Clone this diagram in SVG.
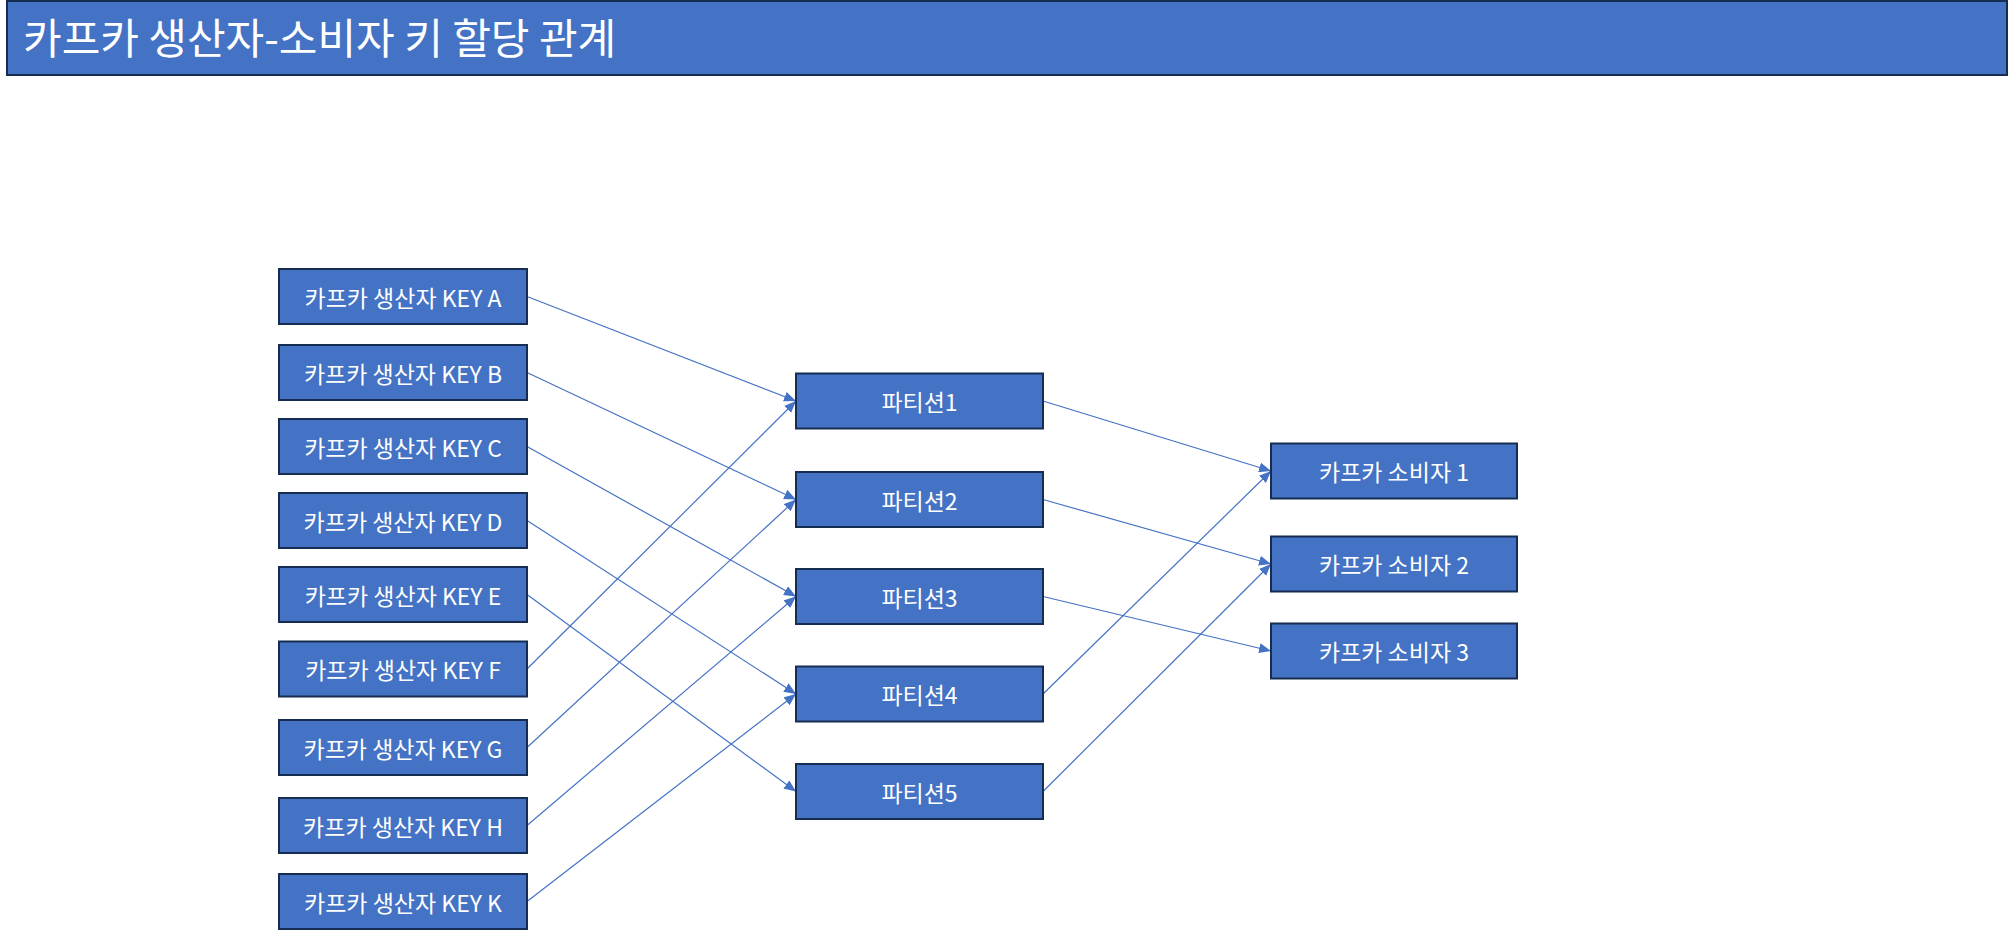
<svg xmlns="http://www.w3.org/2000/svg" width="2009" height="931" viewBox="0 0 2009 931">
<style>
.box{fill:#4472c4;stroke:#172c51;stroke-width:2}
.lbl{fill:#ffffff;font-family:"Noto Sans CJK KR","Noto Sans",sans-serif;font-size:23px;text-anchor:middle;dominant-baseline:central}
.title{fill:#ffffff;font-family:"Noto Sans CJK KR","Noto Sans",sans-serif;font-size:42px}
.edge{stroke:#4472c4;stroke-width:1.2;fill:none;marker-end:url(#arr)}
</style>
<defs>
<marker id="arr" markerUnits="userSpaceOnUse" markerWidth="12" markerHeight="10" refX="12" refY="5" orient="auto">
<path d="M0,0 L12,5 L0,10 z" fill="#4472c4"/>
</marker>
</defs>
<rect width="2009" height="931" fill="#ffffff"/>
<g id="title">
<rect class="box" x="7" y="1" width="2000" height="74"/>
<text class="title" x="23" y="54">카프카 생산자-소비자 키 할당 관계</text>
</g>
<g id="connectors">
<line class="edge" x1="527" y1="296.5" x2="796" y2="401"/>
<line class="edge" x1="527" y1="372.5" x2="796" y2="499.5"/>
<line class="edge" x1="527" y1="446.5" x2="796" y2="596.5"/>
<line class="edge" x1="527" y1="520.5" x2="796" y2="694"/>
<line class="edge" x1="527" y1="594.5" x2="796" y2="791.5"/>
<line class="edge" x1="527" y1="669" x2="796" y2="401"/>
<line class="edge" x1="527" y1="747.5" x2="796" y2="499.5"/>
<line class="edge" x1="527" y1="825.5" x2="796" y2="596.5"/>
<line class="edge" x1="527" y1="901.5" x2="796" y2="694"/>
<line class="edge" x1="1043" y1="401" x2="1271" y2="471"/>
<line class="edge" x1="1043" y1="499.5" x2="1271" y2="564"/>
<line class="edge" x1="1043" y1="596.5" x2="1271" y2="651"/>
<line class="edge" x1="1043" y1="694" x2="1271" y2="471"/>
<line class="edge" x1="1043" y1="791.5" x2="1271" y2="564"/>
</g>
<g id="producer-a"><rect class="box" x="279" y="269" width="248" height="55"/><text class="lbl" x="403" y="296.5">카프카 생산자 KEY A</text></g>
<g id="producer-b"><rect class="box" x="279" y="345" width="248" height="55"/><text class="lbl" x="403" y="372.5">카프카 생산자 KEY B</text></g>
<g id="producer-c"><rect class="box" x="279" y="419" width="248" height="55"/><text class="lbl" x="403" y="446.5">카프카 생산자 KEY C</text></g>
<g id="producer-d"><rect class="box" x="279" y="493" width="248" height="55"/><text class="lbl" x="403" y="520.5">카프카 생산자 KEY D</text></g>
<g id="producer-e"><rect class="box" x="279" y="567" width="248" height="55"/><text class="lbl" x="403" y="594.5">카프카 생산자 KEY E</text></g>
<g id="producer-f"><rect class="box" x="279" y="641.5" width="248" height="55"/><text class="lbl" x="403" y="669">카프카 생산자 KEY F</text></g>
<g id="producer-g"><rect class="box" x="279" y="720" width="248" height="55"/><text class="lbl" x="403" y="747.5">카프카 생산자 KEY G</text></g>
<g id="producer-h"><rect class="box" x="279" y="798" width="248" height="55"/><text class="lbl" x="403" y="825.5">카프카 생산자 KEY H</text></g>
<g id="producer-k"><rect class="box" x="279" y="874" width="248" height="55"/><text class="lbl" x="403" y="901.5">카프카 생산자 KEY K</text></g>
<g id="partition-1"><rect class="box" x="796" y="373.5" width="247" height="55"/><text class="lbl" x="919.5" y="401">파티션1</text></g>
<g id="partition-2"><rect class="box" x="796" y="472" width="247" height="55"/><text class="lbl" x="919.5" y="499.5">파티션2</text></g>
<g id="partition-3"><rect class="box" x="796" y="569" width="247" height="55"/><text class="lbl" x="919.5" y="596.5">파티션3</text></g>
<g id="partition-4"><rect class="box" x="796" y="666.5" width="247" height="55"/><text class="lbl" x="919.5" y="694">파티션4</text></g>
<g id="partition-5"><rect class="box" x="796" y="764" width="247" height="55"/><text class="lbl" x="919.5" y="791.5">파티션5</text></g>
<g id="consumer-1"><rect class="box" x="1271" y="443.5" width="246" height="55"/><text class="lbl" x="1394" y="471">카프카 소비자 1</text></g>
<g id="consumer-2"><rect class="box" x="1271" y="536.5" width="246" height="55"/><text class="lbl" x="1394" y="564">카프카 소비자 2</text></g>
<g id="consumer-3"><rect class="box" x="1271" y="623.5" width="246" height="55"/><text class="lbl" x="1394" y="651">카프카 소비자 3</text></g>
</svg>
